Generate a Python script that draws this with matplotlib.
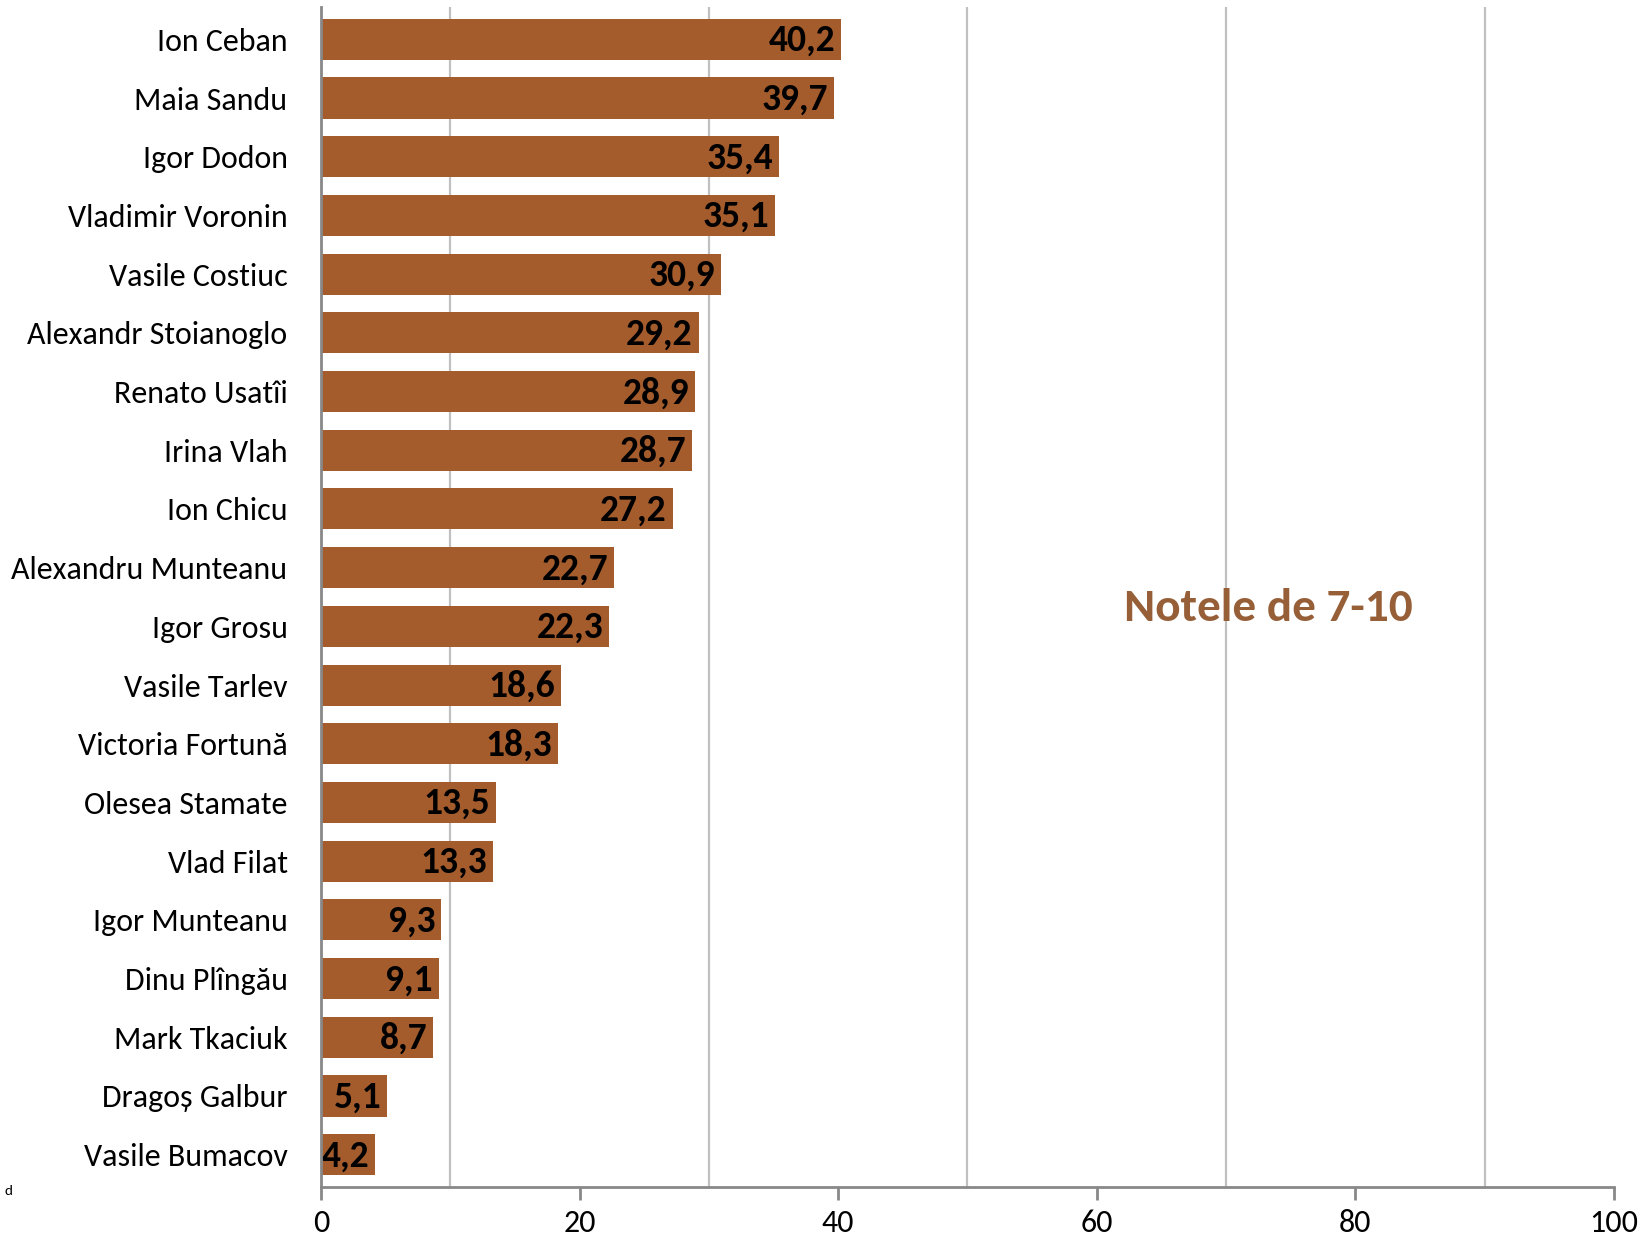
import matplotlib
matplotlib.use("Agg")
import matplotlib.pyplot as plt
from matplotlib.ticker import FixedLocator

names = ["Ion Ceban", "Maia Sandu", "Igor Dodon", "Vladimir Voronin", "Vasile Costiuc",
         "Alexandr Stoianoglo", "Renato Usatîi", "Irina Vlah", "Ion Chicu", "Alexandru Munteanu",
         "Igor Grosu", "Vasile Tarlev", "Victoria Fortună", "Olesea Stamate", "Vlad Filat",
         "Igor Munteanu", "Dinu Plîngău", "Mark Tkaciuk", "Dragoș Galbur", "Vasile Bumacov"]
values = [40.2, 39.7, 35.4, 35.1, 30.9, 29.2, 28.9, 28.7, 27.2, 22.7,
          22.3, 18.6, 18.3, 13.5, 13.3, 9.3, 9.1, 8.7, 5.1, 4.2]
xticks = [0, 20, 40, 60, 80, 100]
gridlines = [10, 30, 50, 70, 90]
annotation = "Notele de 7-10"

fam = ['Carlito', 'Liberation Sans Narrow', 'DejaVu Sans']
plt.rcParams['font.family'] = fam

fig = plt.figure(figsize=(16.51, 12.34), dpi=100)
ax = fig.add_axes([0.1944, 0.0381, 0.7832, 0.9562])

y = list(range(len(names)))
ax.barh(y, values, height=0.7, color='#A45C2C', zorder=3)
ax.set_ylim(19.55, -0.55)
ax.set_xlim(0, 100)

for yi, v in zip(y, values):
    ax.text(v - 0.45, yi + 0.02, f"{v:.1f}".replace('.', ','), ha='right', va='center',
            fontsize=27, fontweight='bold', color='black', zorder=4)

ax.set_yticks(y)
ax.set_yticklabels(names, fontsize=23)
ax.tick_params(axis='y', length=0, pad=24)
ax.xaxis.set_major_locator(FixedLocator(xticks))
ax.set_xticklabels([str(t) for t in xticks], fontsize=23)
ax.tick_params(axis='x', length=9, width=2, color='#888888', pad=7)

for g in gridlines:
    ax.axvline(g, color='#C0C0C0', lw=1.6, zorder=1)

for s in ['top', 'right']:
    ax.spines[s].set_visible(False)
for s in ['left', 'bottom']:
    ax.spines[s].set_color('#888888')
    ax.spines[s].set_linewidth(2)
    ax.spines[s].set_zorder(5)

ax.text(73.3, 9.68, annotation, ha='center', va='center', fontsize=34,
        fontweight='bold', color='#965F37', zorder=2)

fig.text(0.003, 0.032, "d", fontsize=11, color='black')

fig.savefig("out.png", dpi=100)
